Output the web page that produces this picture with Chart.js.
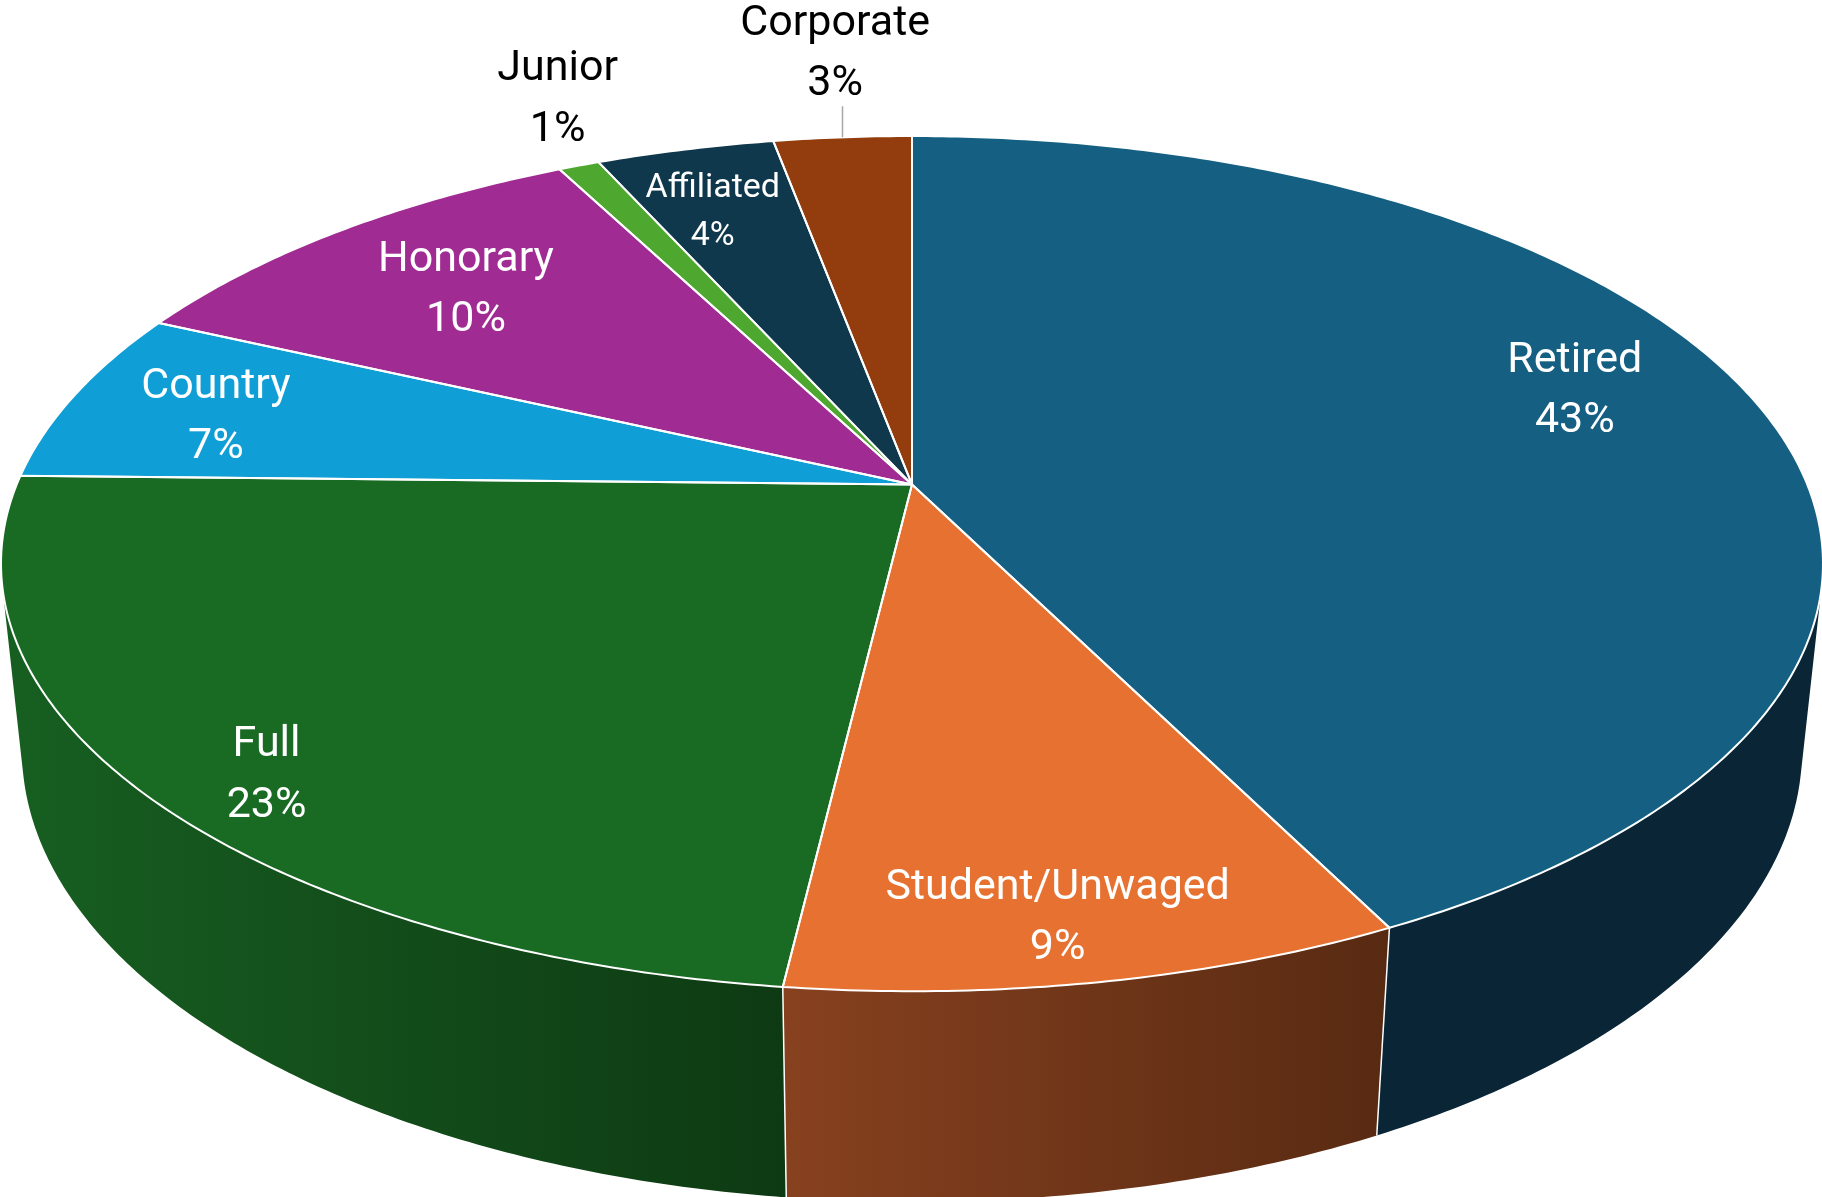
<!DOCTYPE html>
<html>
<head>
<meta charset="utf-8">
<title>Membership</title>
<script src="https://cdn.jsdelivr.net/npm/chart.js@4"></script>
<style>
html, body { margin: 0; padding: 0; background: #fff; overflow: hidden; }
canvas { display: block; }
</style>
</head>
<body>
<canvas id="pieChart" width="1822" height="1197"></canvas>
<script>
var categories = ['Retired', 'Student/Unwaged', 'Full', 'Country', 'Honorary', 'Junior', 'Affiliated', 'Corporate'];
var shares = [42.66, 9.22, 23.46, 6.59, 10.49, 0.87, 3.78, 2.93];
var topColours = ['#156082', '#e67131', '#196b24', '#0f9ed5', '#a02b93', '#4ea72e', '#0f384c', '#933c0d'];
var wallColours = [['#0a2636', '#0a2636'], ['#87411f', '#582a12'], ['#175e21', '#0e3a13'],
    ['#0a5f80', '#0a5f80'], ['#601a58', '#601a58'], ['#2f641c', '#2f641c'], ['#09222f', '#09222f'], ['#582208', '#582208']];
var labelColours = ['#fff', '#fff', '#fff', '#fff', '#fff', '#000', '#fff', '#000'];
var labelSizes = [43, 43, 43, 43, 43, 43, 34, 43];
// where each label sits: radius on the disc, degrees away from the slice middle
var labelRadius = [0.812, 0.884, 0.888, 0.822, 0.759, 1.235, 0.802, 1.307];
var labelNudge = [-4.4, 0.95, -3.0, -0.7, 0.1, 2.9, -1.1, 0.6];

// perspective of the tilted disc, fitted to the picture
var view = { cx: 912, cy: 484.6, rx: 895.3, ry: 413, tilt: 0.1848, drop: 188.1, shrink: 0.02275 };
var fontName = 'Roboto, sans-serif';

function project(angle, r, z) {
    var u = r * Math.cos(angle), v = r * Math.sin(angle);
    var w = 1 - view.tilt * v + view.shrink * z;
    return { x: view.cx + view.rx * u / w, y: view.cy + (view.ry * v + view.drop * z) / w };
}

function stepsFor(from, to) {
    return Math.max(2, Math.ceil(Math.abs(to - from) / 0.01));
}

function traceRim(ctx, from, to, z) {
    var steps = stepsFor(from, to);
    for (var s = 0; s <= steps; s++) {
        var p = project(from + (to - from) * s / steps, 1, z);
        ctx.lineTo(p.x, p.y);
    }
}

// the wall folds at the silhouette, so every small piece is added with the same winding
function traceWall(ctx, from, to) {
    var steps = stepsFor(from, to);
    for (var s = 0; s < steps; s++) {
        var a0 = from + (to - from) * s / steps, a1 = from + (to - from) * (s + 1) / steps;
        var q = [project(a0, 1, 0), project(a1, 1, 0), project(a1, 1, 1), project(a0, 1, 1)];
        var area = 0;
        for (var k = 0; k < 4; k++) {
            var n = q[(k + 1) % 4];
            area += q[k].x * n.y - n.x * q[k].y;
        }
        if (area < 0) q.reverse();
        ctx.moveTo(q[0].x, q[0].y);
        ctx.lineTo(q[1].x, q[1].y);
        ctx.lineTo(q[2].x, q[2].y);
        ctx.lineTo(q[3].x, q[3].y);
        ctx.closePath();
    }
}

var pie3d = {
    id: 'pie3d',
    beforeDatasetsDraw: function(chart) {
        var ctx = chart.ctx;
        var arcs = chart.getDatasetMeta(0).data;
        ctx.save();
        ctx.lineJoin = 'round';

        // side walls first, the top disc covers whatever is hidden
        arcs.forEach(function(arc, i) {
            var left = project(Math.PI, 1, 0).x, right = project(0, 1, 0).x;
            var a = project(arc.startAngle, 1, 0).x, b = project(arc.endAngle, 1, 0).x;
            var x0 = Math.max(left, Math.min(a, b)), x1 = Math.min(right, Math.max(a, b));
            var g = ctx.createLinearGradient(x0, 0, x1, 0);
            // walls read light on their left side
            g.addColorStop(0, wallColours[i][0]);
            g.addColorStop(1, wallColours[i][1]);
            ctx.beginPath();
            traceWall(ctx, arc.startAngle, arc.endAngle);
            ctx.fillStyle = g;
            ctx.fill();
        });

        // seams on the front of the wall
        ctx.strokeStyle = '#fff';
        ctx.lineWidth = 1.5;
        arcs.forEach(function(arc) {
            if (Math.sin(arc.startAngle) < 0.1) return;
            var p = project(arc.startAngle, 1, 0), q = project(arc.startAngle, 1, 1);
            ctx.beginPath();
            ctx.moveTo(p.x, p.y);
            ctx.lineTo(q.x, q.y);
            ctx.stroke();
        });

        // top disc
        arcs.forEach(function(arc, i) {
            ctx.beginPath();
            ctx.moveTo(view.cx, view.cy);
            traceRim(ctx, arc.startAngle, arc.endAngle, 0);
            ctx.closePath();
            ctx.fillStyle = topColours[i];
            ctx.fill();
        });
        ctx.lineWidth = 2;
        arcs.forEach(function(arc) {
            ctx.beginPath();
            ctx.moveTo(view.cx, view.cy);
            traceRim(ctx, arc.startAngle, arc.endAngle, 0);
            ctx.closePath();
            ctx.stroke();
        });

        // leader line of the last slice
        var last = arcs[arcs.length - 1];
        var rim = project((last.startAngle + last.endAngle) / 2, 1, 0);
        ctx.strokeStyle = '#a6a6a6';
        ctx.lineWidth = 1.5;
        ctx.beginPath();
        ctx.moveTo(rim.x, rim.y);
        ctx.lineTo(rim.x, rim.y - 31);
        ctx.stroke();

        // labels
        ctx.textAlign = 'center';
        ctx.textBaseline = 'middle';
        arcs.forEach(function(arc, i) {
            var mid = (arc.startAngle + arc.endAngle) / 2 + labelNudge[i] * Math.PI / 180;
            var p = project(mid, labelRadius[i], 0);
            var gap = labelSizes[i] * 1.4;
            ctx.font = labelSizes[i] + 'px ' + fontName;
            ctx.fillStyle = labelColours[i];
            ctx.fillText(categories[i], p.x, p.y + 3.5 - gap / 2);
            ctx.fillText(Math.round(shares[i]) + '%', p.x, p.y + 3.5 + gap / 2);
        });
        ctx.restore();
        return false;
    }
};

new Chart(document.getElementById('pieChart').getContext('2d'), {
    type: 'pie',
    data: {
        labels: categories,
        datasets: [{ data: shares, backgroundColor: topColours }]
    },
    options: {
        responsive: false,
        animation: false,
        plugins: { legend: { display: false }, tooltip: { enabled: false } }
    },
    plugins: [pie3d]
});
</script>
</body>
</html>
